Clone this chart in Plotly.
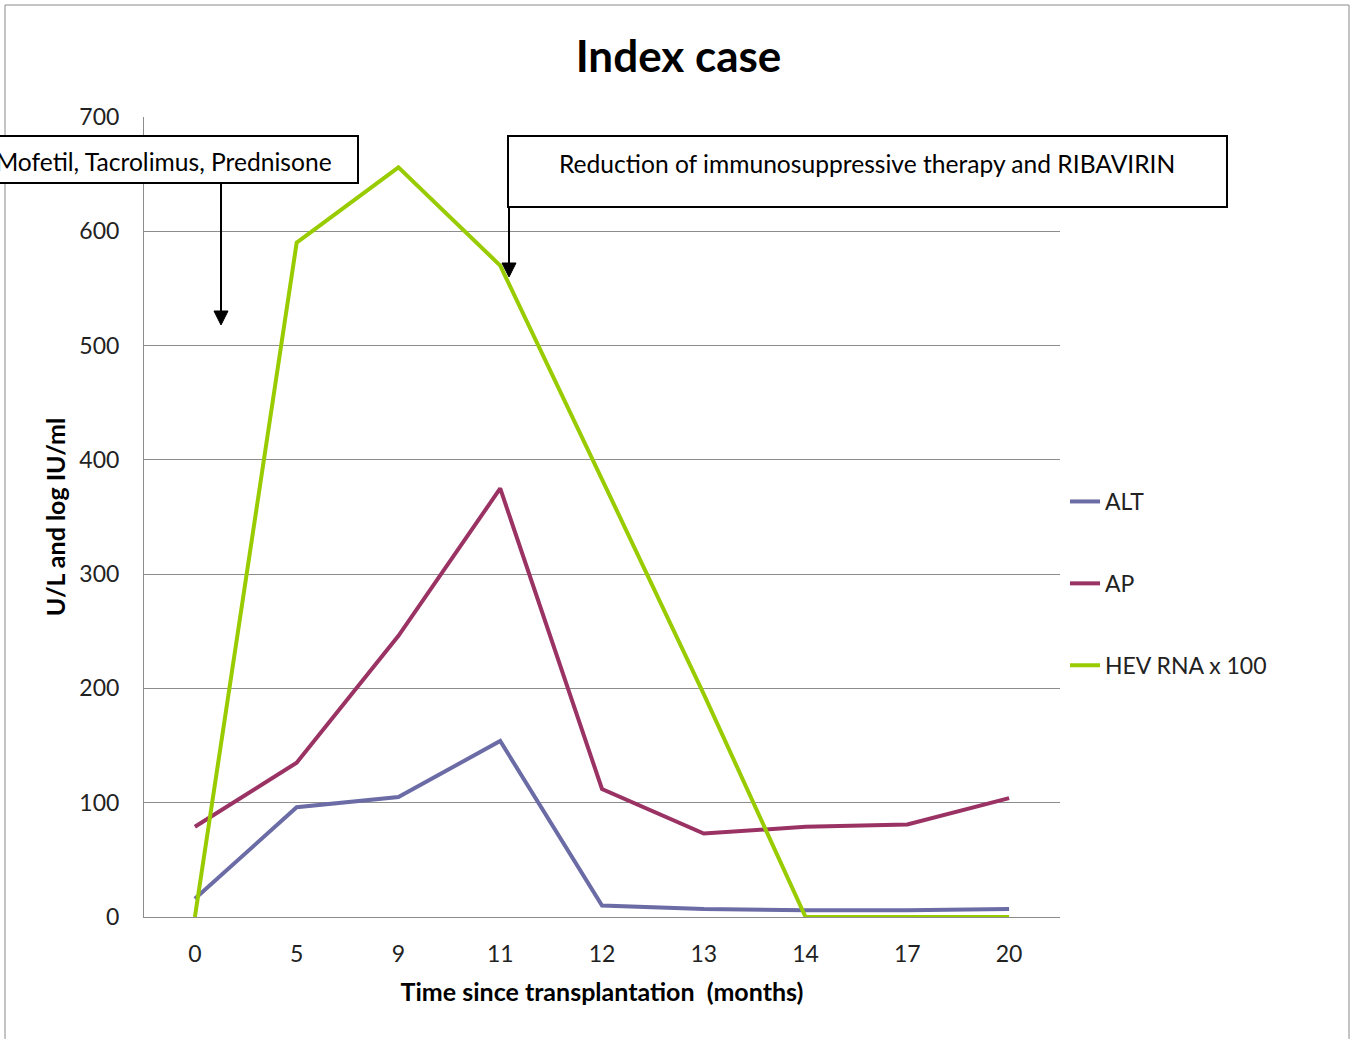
import plotly.graph_objects as go

# ---- data ----
months = ["0", "5", "9", "11", "12", "13", "14", "17", "20"]
alt = [16, 96, 105, 154, 10, 7, 6, 6, 7]
ap = [79, 135, 246, 375, 112, 73, 79, 81, 104]
hev_rna_x100 = [0, 590, 656, 570, 383, 195, 0, 0, 0]

series_names = ["ALT", "AP", "HEV RNA x 100"]
series_colors = ["#6B6BA6", "#9A3364", "#99CC00"]

FONT = "Lato"
W, H = 1357, 1039
L, R, T, B = 144, 1060, 117, 917


def px(x):
    return (x - L) / (R - L)


def py(y):
    return (B - y) / (B - T)


fig = go.Figure()
for name, vals, col in zip(series_names, [alt, ap, hev_rna_x100], series_colors):
    fig.add_trace(go.Scatter(
        x=months, y=vals, mode="lines", name=name, legendgroup=name,
        line=dict(color=col, width=4),
    ))

shapes = []
# outer chart border
shapes.append(dict(type="rect", xref="paper", yref="paper",
                   x0=px(5), x1=px(1349), y0=py(1045), y1=py(5),
                   line=dict(color="#8a8a8a", width=1), fillcolor="rgba(0,0,0,0)", layer="below"))
# box 1
shapes.append(dict(type="rect", xref="paper", yref="paper",
                   x0=px(-20), x1=px(358), y0=py(183), y1=py(136),
                   line=dict(color="black", width=2), fillcolor="white", layer="above"))
# box 2
shapes.append(dict(type="rect", xref="paper", yref="paper",
                   x0=px(508), x1=px(1227), y0=py(207), y1=py(136),
                   line=dict(color="black", width=2), fillcolor="white", layer="above"))
# arrows (lines + heads)
for xa, ytop, ytip in [(221, 183, 325), (509, 207, 277)]:
    shapes.append(dict(type="line", xref="paper", yref="paper",
                       x0=px(xa), x1=px(xa), y0=py(ytop), y1=py(ytip - 10),
                       line=dict(color="black", width=2), layer="above"))
    path = "M {a},{b} L {c},{d} L {e},{f} Z".format(
        a=px(xa), b=py(ytip), c=px(xa - 7), d=py(ytip - 14), e=px(xa + 7), f=py(ytip - 14))
    shapes.append(dict(type="path", xref="paper", yref="paper", path=path,
                       fillcolor="black", line=dict(color="black", width=1), layer="above"))

annotations = [
    dict(text="Mycophenolate Mofetil, Tacrolimus, Prednisone", xref="paper", yref="paper",
         x=px(334), y=py(161), xanchor="right", yanchor="middle", showarrow=False,
         font=dict(family=FONT, size=24.6, color="black")),
    dict(text="Reduction of immunosuppressive therapy and RIBAVIRIN", xref="paper", yref="paper",
         x=px(867), y=py(164), xanchor="center", yanchor="middle", showarrow=False,
         font=dict(family=FONT, size=24.6, color="black")),
]

fig.update_layout(
    width=W, height=H,
    margin=dict(l=L, r=W - R, t=T, b=H - B, pad=0),
    paper_bgcolor="white", plot_bgcolor="white",
    font=dict(family=FONT, size=23, color="#222222"),
    title=dict(text="<b>Index case</b>", x=0.5, xref="container", xanchor="center",
               y=1 - 57 / H, yanchor="middle", yref="container",
               font=dict(family=FONT, size=44, color="black")),
    shapes=shapes,
    annotations=annotations,
    showlegend=True,
    legend=dict(x=px(1065), y=py(480), xanchor="left", yanchor="top",
                tracegroupgap=49, font=dict(family=FONT, size=23, color="#222222"),
                bgcolor="rgba(0,0,0,0)"),
)
fig.update_xaxes(type="category", range=[-0.5, 8.5], showgrid=False,
                 showline=True, linecolor="#8c8c8c", linewidth=1,
                 ticks="", ticklabelstandoff=16,
                 title=dict(text="<b>Time since transplantation  (months)</b>", standoff=17,
                            font=dict(family=FONT, size=25, color="black")))
fig.update_yaxes(range=[0, 700], dtick=100, showgrid=True, gridcolor="#8c8c8c", gridwidth=1,
                 showline=True, linecolor="#8c8c8c", linewidth=1, zeroline=False,
                 ticks="", ticklabelstandoff=19,
                 title=dict(text="<b>U/L and log IU/ml</b>", standoff=6,
                            font=dict(family=FONT, size=25, color="black")))

fig.write_html("out.html", config={"displayModeBar": False},
               post_script="document.body.style.margin='0px';")
